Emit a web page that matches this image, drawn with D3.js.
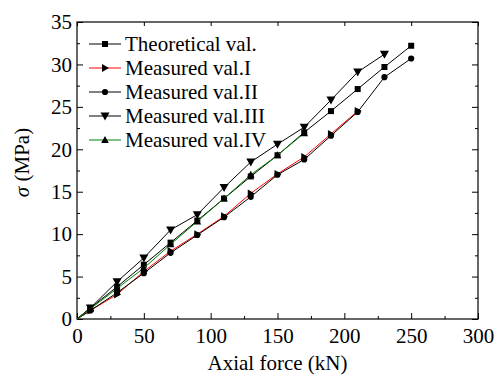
<!DOCTYPE html>
<html>
<head>
<meta charset="utf-8">
<script src="https://cdn.jsdelivr.net/npm/d3@7"></script>
</head>
<body style="margin:0">
<script>
// data
const forces = [0, 10, 30, 50, 70, 90, 110, 130, 150, 170, 190, 210, 230, 250];
const theoretical = [0, 1.3, 3.8, 6.4, 9.0, 11.6, 14.2, 16.8, 19.3, 22.0, 24.5, 27.1, 29.7, 32.2];
const measuredI = [0, 1.0, 2.9, 5.6, 8.0, 10.0, 12.1, 14.8, 17.1, 19.1, 21.8, 24.5];
const measuredII = [0, 1.0, 3.1, 5.4, 7.8, 9.9, 12.0, 14.4, 17.0, 18.8, 21.6, 24.4, 28.5, 30.7];
const measuredIII = [0, 1.3, 4.4, 7.2, 10.5, 12.3, 15.5, 18.5, 20.6, 22.6, 25.8, 29.1, 31.2];
const measuredIV = [0, 1.2, 3.6, 6.0, 8.8, 11.5, 14.2, 17.0, 19.3, 21.9];
const xTicks = [0, 50, 100, 150, 200, 250, 300];
const yTicks = [0, 5, 10, 15, 20, 25, 30, 35];

const series = [
  { name: "Theoretical val.", values: theoretical, color: "#000", symbol: "square" },
  { name: "Measured val.I", values: measuredI, color: "#ff0000", symbol: "right" },
  { name: "Measured val.II", values: measuredII, color: "#000", symbol: "circle" },
  { name: "Measured val.III", values: measuredIII, color: "#000", symbol: "down" },
  { name: "Measured val.IV", values: measuredIV, color: "#008000", symbol: "up" }
];

const FONT = "'Times New Roman', 'Liberation Serif', Times, serif";
const FS = "21px";

const W = 497, H = 376;
const margin = { top: 22, right: 19, bottom: 57, left: 77 };
const width = W - margin.left - margin.right;
const height = H - margin.top - margin.bottom;

const svg = d3.select("body").append("svg")
  .attr("width", W)
  .attr("height", H);

const g = svg.append("g")
  .attr("transform", "translate(" + margin.left + "," + margin.top + ")");

const x = d3.scaleLinear().domain([0, 300]).range([0, width]);
const y = d3.scaleLinear().domain([0, 35]).range([height, 0]);

const xMinor = d3.range(25, 300, 50);
const yMinor = d3.range(2.5, 35, 5);

// ticks point inward
function drawAxis(axis, tx, ty) {
  const a = g.append("g")
    .attr("transform", "translate(" + tx + "," + ty + ")")
    .call(axis);
  a.attr("font-family", null).attr("font-size", null);
  a.select(".domain").remove();
  a.selectAll(".tick line").attr("stroke", "#000");
  a.selectAll("text")
    .attr("fill", "#000")
    .style("font-family", FONT)
    .style("font-size", FS);
  return a;
}

drawAxis(d3.axisBottom(x).tickValues(xTicks).tickSize(-6).tickPadding(9), 0, height);
drawAxis(d3.axisBottom(x).tickValues(xMinor).tickSize(-3).tickFormat(""), 0, height);
drawAxis(d3.axisLeft(y).tickValues(yTicks).tickSize(-6).tickPadding(5), 0, 0);
drawAxis(d3.axisLeft(y).tickValues(yMinor).tickSize(-3).tickFormat(""), 0, 0);
drawAxis(d3.axisTop(x).tickValues(xTicks).tickSize(-4).tickFormat(""), 0, 0);
drawAxis(d3.axisRight(y).tickValues(yTicks).tickSize(-6).tickFormat(""), width, 0);
drawAxis(d3.axisRight(y).tickValues(yMinor).tickSize(-3).tickFormat(""), width, 0);

// frame
g.append("rect")
  .attr("width", width)
  .attr("height", height)
  .attr("fill", "none")
  .attr("stroke", "#000")
  .attr("stroke-width", 1.2);

function symbolPath(type) {
  if (type === "square") return "M-3,-3H3V3H-3Z";
  if (type === "circle") return d3.symbol(d3.symbolCircle, 30)();
  if (type === "down") return "M-4.5,-3.5L4.5,-3.5L0,4.5Z";
  if (type === "up") return "M-3.8,3L3.8,3L0,-4Z";
  if (type === "right") return "M-3,-4L4,0L-3,4Z";
}

const line = d3.line()
  .x(d => x(d.f))
  .y(d => y(d.v));

series.forEach(s => {
  const pts = s.values.map((v, i) => ({ f: forces[i], v: v }));
  g.append("path")
    .datum(pts)
    .attr("fill", "none")
    .attr("stroke", s.color)
    .attr("stroke-width", 1)
    .attr("d", line);
  g.selectAll(null)
    .data(pts.slice(1))
    .enter()
    .append("path")
    .attr("d", symbolPath(s.symbol))
    .attr("transform", d => "translate(" + x(d.f) + "," + y(d.v) + ")")
    .attr("fill", "#000");
});

// legend
series.forEach((s, i) => {
  const ly = 22 + i * 24;
  g.append("line")
    .attr("x1", 12).attr("x2", 44)
    .attr("y1", ly).attr("y2", ly)
    .attr("stroke", s.color)
    .attr("stroke-width", 1);
  g.append("path")
    .attr("d", symbolPath(s.symbol))
    .attr("transform", "translate(28," + ly + ")")
    .attr("fill", "#000");
  g.append("text")
    .attr("x", 48)
    .attr("y", ly + 7)
    .style("font-family", FONT)
    .style("font-size", FS)
    .text(s.name);
});

// axis titles
svg.append("text")
  .attr("x", margin.left + width / 2)
  .attr("y", 370)
  .attr("text-anchor", "middle")
  .style("font-family", FONT)
  .style("font-size", FS)
  .text("Axial force (kN)");

const yTitle = svg.append("text")
  .attr("transform", "translate(29," + (margin.top + height / 2 - 8) + ") rotate(-90)")
  .attr("text-anchor", "middle")
  .style("font-family", FONT)
  .style("font-size", FS);
yTitle.append("tspan").style("font-style", "italic").text("σ");
yTitle.append("tspan").text(" (MPa)");
</script>
</body>
</html>
